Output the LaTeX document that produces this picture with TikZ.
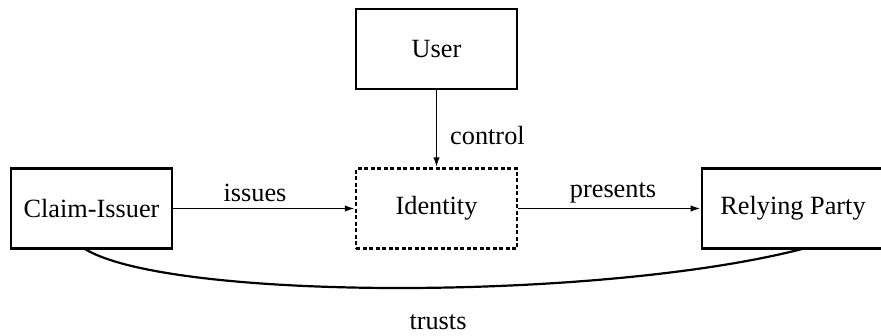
\documentclass[tikz,border=0pt]{standalone}
\usepackage{fontspec}
\setmainfont{Liberation Serif}
\usetikzlibrary{arrows.meta}
\begin{document}
\begin{tikzpicture}[x=1pt,y=-1pt,
  every node/.style={font=\rmfamily\fontsize{26.3}{30}\selectfont, text=black},
  box/.style={draw, line width=2.8pt, minimum width=161pt, minimum height=80pt, inner sep=0pt},
  dbox/.style={box, line width=2.4pt, dash pattern=on 4pt off 2.5pt},
  conn/.style={line width=1.8pt, -{Latex[length=10pt,width=6.5pt]}},
  lbl/.style={inner sep=0pt}]
\useasboundingbox (0,0) rectangle (881,335);
\node[box] (user) at (436.5,49) {User};
\node[dbox] (ident) at (436.5,208.5) {Identity};
\node[box] (ci) at (91.5,208.5) {Claim-Issuer};
\node[box, minimum width=182pt] (rp) at (793,208.5) {Relying Party};
\draw[conn] (user) -- (ident);
\draw[conn] (ci) -- (ident);
\draw[conn] (ident) -- (rp);
\coordinate (cs) at (85,249);
\coordinate (ce) at (802,249);
\draw[line width=2.2pt] (cs) .. controls (170,301) and (600,301) .. (ce);
\node[lbl, anchor=west] (lc) at (450,136) {control};
\node[lbl] (li) at (255,193) {issues};
\node[lbl] (lp) at (613,193) {presents};
\node[lbl] (lt) at (438,322) {trusts};
\end{tikzpicture}
\end{document}
